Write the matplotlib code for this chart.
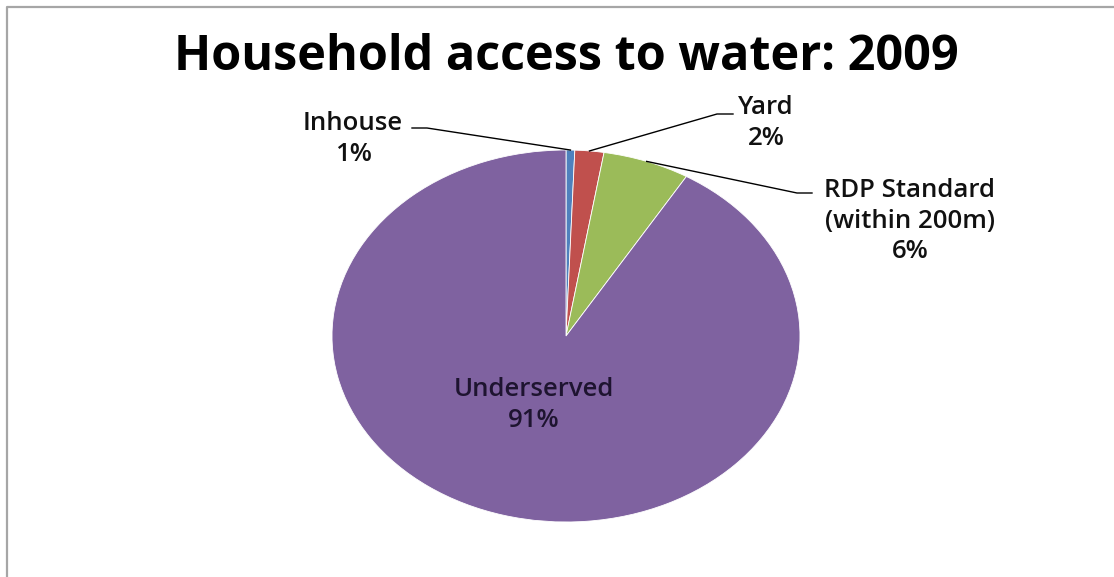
import numpy as np
import matplotlib.pyplot as plt
from matplotlib.lines import Line2D

plt.rcParams["font.family"] = ["Open Sans", "DejaVu Sans"]

# slice shares (percent), clockwise from 12 o'clock
labels = ["Inhouse", "Yard", "RDP Standard\n(within 200m)", "Underserved"]
shares = [0.6, 2.0, 6.0, 91.4]
pct_text = ["1%", "2%", "6%", "91%"]
colors = ["#4F81BD", "#C0504D", "#9BBB59", "#7F62A0"]

W, H = 1114, 577
fig = plt.figure(figsize=(W / 100, H / 100), dpi=100)

# pie box (the original picture is stretched horizontally)
cx, cy, rx, ry = 566, 336, 234, 186
pie_ax = fig.add_axes([(cx - rx) / W, (H - cy - ry) / H, 2 * rx / W, 2 * ry / H])
wedges, _ = pie_ax.pie(shares, colors=colors, startangle=90, counterclock=False,
                       radius=1, wedgeprops=dict(edgecolor="white", linewidth=0.6))
pie_ax.set_xlim(-1, 1)
pie_ax.set_ylim(-1, 1)
pie_ax.set_aspect("auto")
pie_ax.axis("off")

# overlay in pixel coords (y down) for frame, title, labels
ov = fig.add_axes([0, 0, 1, 1])
ov.set_xlim(0, W)
ov.set_ylim(H, 0)
ov.axis("off")

# frame
ov.add_line(Line2D([7, 7, W], [H, 7, 7], color="#a6a6a6", lw=1.6))

ov.text(cx, 57, "Household access to water: 2009", ha="center", va="center",
        fontsize=35, fontweight="bold", color="black")


def anchor(i):
    w = wedges[i]
    mid = np.deg2rad((w.theta1 + w.theta2) / 2)
    disp = pie_ax.transData.transform((np.cos(mid), np.sin(mid)))
    return ov.transData.inverted().transform(disp)


lab_kw = dict(ha="center", va="center", fontsize=18.5, color="#111111",
              fontweight="semibold", linespacing=1.3)
# (label centre, elbow, line end next to text)
layout = [
    ((353, 139), (427, 128), (412, 128)),
    ((766, 123), (717, 114), (733, 114)),
    ((910, 221), (797, 193), (812, 193)),
]
for i, (pos, elbow, end) in enumerate(layout):
    ax0, ay0 = anchor(i)
    ov.plot([ax0, elbow[0], end[0]], [ay0, elbow[1], end[1]], color="black", lw=1.0)
    ov.text(pos[0], pos[1], labels[i] + "\n" + pct_text[i], **lab_kw)

ov.text(534, 405, labels[3] + "\n" + pct_text[3], ha="center", va="center",
        fontsize=18.5, fontweight="semibold", color="#1e1430", linespacing=1.3)

fig.savefig("out.png", dpi=100)
